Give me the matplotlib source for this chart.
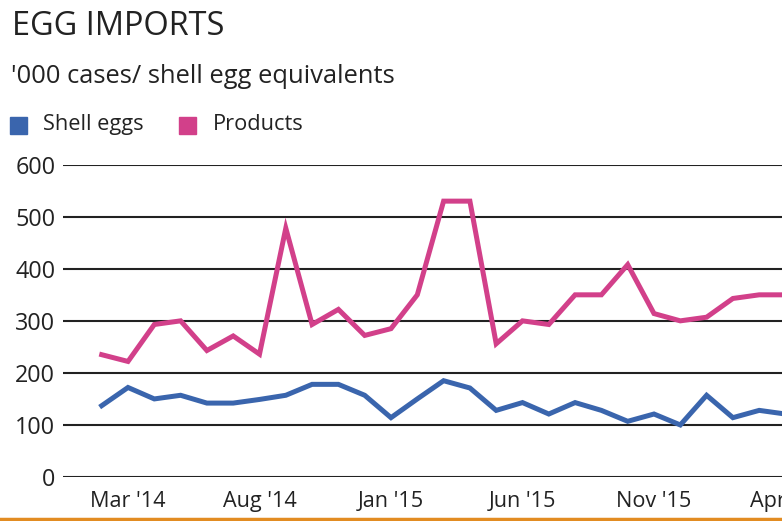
import matplotlib
matplotlib.use('Agg')
import matplotlib.pyplot as plt
from matplotlib.patches import Rectangle
from matplotlib.lines import Line2D

# monthly data, Feb '14 .. Apr '16
months = ["Feb '14", "Mar '14", "Apr '14", "May '14", "Jun '14", "Jul '14", "Aug '14",
          "Sep '14", "Oct '14", "Nov '14", "Dec '14", "Jan '15", "Feb '15", "Mar '15",
          "Apr '15", "May '15", "Jun '15", "Jul '15", "Aug '15", "Sep '15", "Oct '15",
          "Nov '15", "Dec '15", "Jan '16", "Feb '16", "Mar '16", "Apr '16"]
shell_eggs = [137, 172, 150, 157, 142, 142, 149, 157, 178, 178, 157, 114, 150, 185,
              171, 128, 143, 121, 143, 128, 107, 121, 100, 157, 114, 128, 121]
products = [235, 222, 293, 300, 243, 271, 236, 478, 293, 322, 272, 285, 350, 530,
            530, 256, 300, 293, 350, 350, 408, 314, 300, 307, 343, 350, 350]
tick_every = 5
tick_start = 1

plt.rcParams['font.family'] = ['Open Sans', 'DejaVu Sans']
txt = '#222222'
blue = '#3a65ad'
pink = '#d2408a'

W, H = 782, 521
fig = plt.figure(figsize=(W / 100, H / 100), dpi=100)

# axes reaches past the right edge, the chart is cropped there
x0, x1 = 63, 900
y0, y1 = 477, 164.7
ax = fig.add_axes([x0 / W, (H - y0) / H, (x1 - x0) / W, (y0 - y1) / H])

xs = list(range(len(months)))
ax.plot(xs, shell_eggs, color=blue, lw=3.6, solid_joinstyle='miter')
ax.plot(xs, products, color=pink, lw=3.6, solid_joinstyle='miter')

step = 26.3
first = 101.7
ax.set_xlim((x0 - first) / step, (x1 - first) / step)
ax.set_ylim(0, 600)
ax.set_yticks(range(0, 601, 100))
ax.set_xticks(xs[tick_start::tick_every])
ax.set_xticklabels(months[tick_start::tick_every])
ax.grid(axis='y', color='#222222', lw=1.5)
ax.set_axisbelow(True)
for s in ax.spines.values():
    s.set_visible(False)
ax.tick_params(length=0, colors=txt)
ax.tick_params(axis='y', pad=5.5, labelsize=16.8)
ax.tick_params(axis='x', pad=10, labelsize=15.6)

fig.text(12 / W, (H - 35) / H, 'EGG IMPORTS', fontsize=23.4, color=txt, va='baseline')
fig.text(11 / W, (H - 83) / H, "'000 cases/ shell egg equivalents", fontsize=18.4,
         color=txt, va='baseline')

for xl, xt, col, lab in [(10, 43, blue, 'Shell eggs'), (179, 213, pink, 'Products')]:
    fig.add_artist(Rectangle((xl / W, (H - 134) / H), 17 / W, 17 / H,
                             transform=fig.transFigure, color=col))
    fig.text(xt / W, (H - 130) / H, lab, fontsize=15.7, color=txt, va='baseline')

fig.add_artist(Line2D([0, 1], [(H - 519) / H] * 2, color='#e28c22', lw=2.5,
                      transform=fig.transFigure))

fig.savefig('out.png', dpi=100)
